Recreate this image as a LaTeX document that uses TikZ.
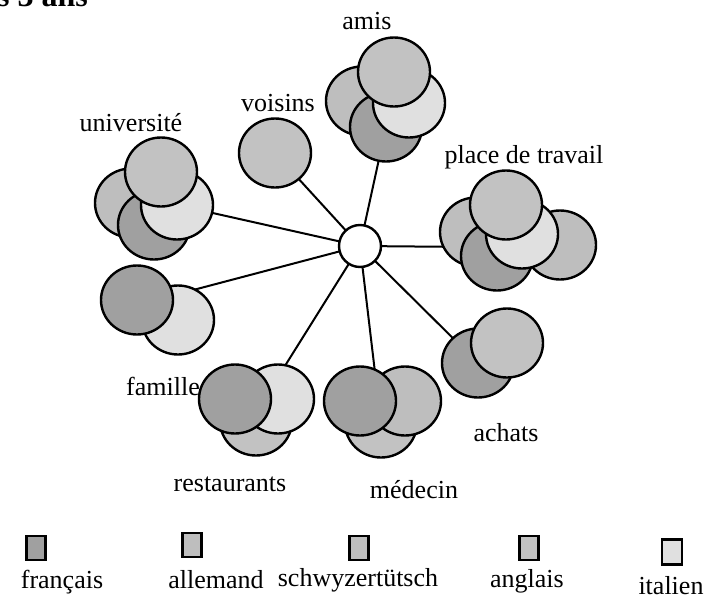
\documentclass[tikz,border=0pt]{standalone}
\usepackage{fontspec}
\setmainfont{Liberation Serif}
\usetikzlibrary{shapes.geometric}
\definecolor{fr}{HTML}{A0A0A0}
\definecolor{de}{HTML}{BEBEBE}
\definecolor{ch}{HTML}{BEBEBE}
\definecolor{en}{HTML}{C2C2C2}
\definecolor{it}{HTML}{E0E0E0}
\pgfdeclarelayer{bg}
\pgfsetlayers{bg,main}
\begin{document}
\begin{tikzpicture}[x=1pt,y=-1pt,
  blob/.style={ellipse, draw, line width=2.4pt, minimum width=72pt, minimum height=69pt, inner sep=0pt},
  link/.style={line width=2pt},
  lbl/.style={font=\fontsize{26}{30}\selectfont, inner sep=0pt},
  key/.style={draw, line width=2.4pt, minimum width=19pt, minimum height=24pt, inner sep=0pt}]
\useasboundingbox (0,0) rectangle (704,608);
% title (cropped)
\node[font=\fontsize{32}{36}\selectfont\bfseries, anchor=base east, inner sep=0pt] (title) at (88,6) {s 3 ans};
% amis
\node[blob,fill=de] (amL) at (362,101) {};
\node[blob,fill=fr] (amD) at (386,127) {};
\node[blob,fill=it] (amI) at (409,103) {};
\node[blob,fill=en] (amT) at (394,72) {};
\node[lbl] (amisL) at (367,21) {amis};
% voisins
\node[blob,fill=en] (vo) at (275,153) {};
\node[lbl] (voisL) at (278,103) {voisins};
% universite
\node[blob,fill=de] (unL) at (131,203) {};
\node[blob,fill=fr] (unD) at (154,225) {};
\node[blob,fill=it] (unI) at (177,205) {};
\node[blob,fill=en] (unT) at (161,172) {};
\node[lbl] (univL) at (131,123) {université};
% place de travail
\node[blob,fill=ch] (ptR) at (560,245) {};
\node[blob,fill=de] (ptL) at (476,232) {};
\node[blob,fill=fr] (ptD) at (497,256) {};
\node[blob,fill=it] (ptI) at (522,234) {};
\node[blob,fill=en] (ptT) at (506,205) {};
\node[lbl] (ptL2) at (524,157) {place de travail};
\coordinate (ptEnd) at (470,247);
% famille
\node[blob,fill=it] (faI) at (178,320) {};
\node[blob,fill=fr] (faD) at (137,300) {};
\node[lbl] (famL) at (163,386) {famille};
\coordinate (faEnd) at (178,294);
% restaurants
\node[blob,fill=en] (reB) at (256,421) {};
\node[blob,fill=it] (reI) at (278,399) {};
\node[blob,fill=fr] (reD) at (235,399) {};
\node[lbl] (restL) at (230,484) {restaurants};
\coordinate (reEnd) at (273,385);
% medecin
\node[blob,fill=en] (meB) at (381,423) {};
\node[blob,fill=ch] (meR) at (405,401) {};
\node[blob,fill=fr] (meD) at (360,401) {};
\node[lbl] (medL) at (414,490) {médecin};
% achats
\node[blob,fill=fr] (acD) at (478,363) {};
\node[blob,fill=en] (acG) at (507,343) {};
\node[lbl] (achL) at (506,433) {achats};
% hub
\node[circle, draw, fill=white, line width=2.4pt, minimum size=42pt, inner sep=0pt] (hub) at (360,246) {};
\begin{pgfonlayer}{bg}
\draw[link] (hub.center) -- (amD.center);
\draw[link] (hub.center) -- (vo.center);
\draw[link] (hub.center) -- (unI.center);
\draw[link] (hub.center) -- (ptEnd);
\draw[link] (hub.center) -- (faEnd);
\draw[link] (hub.center) -- (reEnd);
\draw[link] (hub.center) -- (meB.center);
\draw[link] (hub.center) -- (acD.center);
\end{pgfonlayer}
% legend
\node[key,fill=fr] (kfr) at (36,548) {};
\node[key,fill=de] (kde) at (192,545) {};
\node[key,fill=ch] (kch) at (359,548) {};
\node[key,fill=en] (ken) at (529,548) {};
\node[key,fill=it,minimum width=20pt,minimum height=25pt] (kit) at (672,552) {};
\node[lbl] (lfr) at (62,582) {français};
\node[lbl] (lde) at (216,580) {allemand};
\node[lbl] (lch) at (358,580) {schwyzertütsch};
\node[lbl] (len) at (527,581) {anglais};
\node[lbl] (lit) at (671,586) {italien};
\end{tikzpicture}
\end{document}
